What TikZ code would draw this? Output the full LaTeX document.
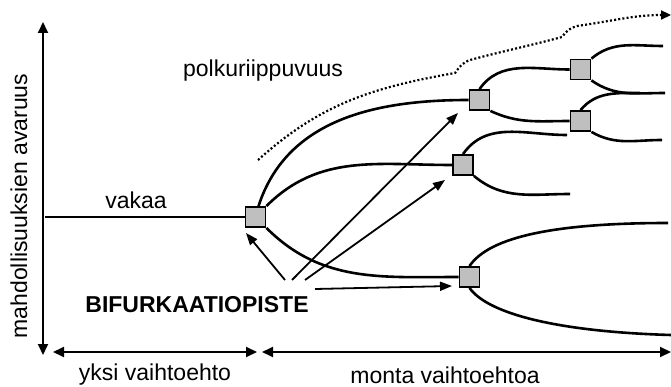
\documentclass[tikz,border=0pt]{standalone}
\usepackage{fontspec}
\setmainfont{Liberation Sans}
\usetikzlibrary{arrows.meta,positioning}

\tikzset{
  branch/.style={line width=2.6pt},
  bpoint/.style={draw, line width=1.8pt, fill=gray!50, minimum size=20pt, inner sep=0pt},
  pointer/.style={line width=1.8pt, -{Triangle[length=12pt,width=9pt]}},
  axis/.style={line width=1.8pt, {Triangle[length=11pt,width=10pt]}-{Triangle[length=11pt,width=10pt]}},
  path dots/.style={line width=2.2pt, dash pattern=on 2pt off 2.2pt, -{Triangle[length=10pt,width=9pt]}},
}

\begin{document}
\begin{tikzpicture}[x=1pt, y=-1pt, >=Triangle, every node/.style={font=\fontsize{23}{27}\selectfont}]
    \useasboundingbox (0,0) rectangle (671,387);

    % axes
    \coordinate (ytop) at (43,22);
    \coordinate (ybot) at (43,355);
    \coordinate (one l) at (53,352);
    \coordinate (one r) at (257,352);
    \coordinate (many l) at (262,352);
    \coordinate (many r) at (671,352);
    \draw[axis] (ytop) -- (ybot);
    \draw[axis] (one l) -- (one r);
    \draw[axis] (many l) -- (many r);

    \node[rotate=90] (space) at (19,206) {mahdollisuuksien avaruus};
    \node (one) at (155,375) {yksi vaihtoehto};
    \node (many) at (445,375) {monta vaihtoehtoa};

    % bifurcation points
    \node[bpoint] (b0) at (255.5,217) {};
    \node[bpoint] (b1) at (479.5,100) {};
    \node[bpoint] (b2) at (463,165) {};
    \node[bpoint] (b3) at (469.5,277) {};
    \node[bpoint] (b4) at (580.5,69.5) {};
    \node[bpoint] (b5) at (580.5,121) {};

    % free ends
    \coordinate (stable) at (45,217);
    \coordinate (e1) at (567,135);
    \coordinate (e2) at (570,194);
    \coordinate (e3) at (663,46);
    \coordinate (e4) at (665,93);
    \coordinate (e5) at (640,93);
    \coordinate (e6) at (662,140);
    \coordinate (e7) at (668,223);
    \coordinate (e8) at (671,335);

    \draw[line width=2pt] (stable) -- (b0);
    \node (vakaa) at (136,200) {vakaa};

    \draw[branch] ([xshift=3pt]b0.north) to[out=72,in=180] (b1.west);
    \draw[branch] (b0.north east) to[out=45,in=180] (b2.west);
    \draw[branch] (b0.south east) to[out=-45,in=180] (b3.west);
    \draw[branch] (b1.north) to[out=55,in=180] (b4.west);
    \draw[branch] (b1.south east) to[out=-25,in=180] (b5.west);
    \draw[branch] (b2.north) to[out=55,in=180] (e1);
    \draw[branch] (b2.south east) to[out=-40,in=180] (e2);
    \draw[branch] (b4.north east) to[out=40,in=180] (e3);
    \draw[branch] (b4.south east) to[out=-35,in=180] (e4);
    \draw[branch] (b5.north) to[out=50,in=180] (e5);
    \draw[branch] (b5.south east) to[out=-30,in=180] (e6);
    \draw[branch] (b3.north) .. controls +(20,-30) and +(-110,0) .. (e7);
    \draw[branch] (b3.south) .. controls +(20,28) and +(-105,-3) .. (e8);

    % path dependence
    \coordinate (d0) at (258,160);
    \coordinate (d1) at (455,73);
    \coordinate (d2) at (470,60);
    \coordinate (d3) at (562,37);
    \coordinate (d4) at (577,26);
    \coordinate (d5) at (671,15);
    \draw[path dots] (d0) to[out=42,in=190] (d1) to[out=55,in=200] (d2)
        to[out=15,in=195] (d3) to[out=55,in=195] (d4) to[out=8,in=180] (d5);
    \node (polku) at (263,71) {polkuriippuvuus};

    % label and pointers
    \node[font=\fontsize{23}{27}\selectfont\bfseries] (bif) at (197,305) {BIFURKAATIOPISTE};
    \coordinate (s0) at (285,280);
    \coordinate (s1) at (292,280);
    \coordinate (s2) at (305,280);
    \coordinate (s3) at (315,289);
    \draw[pointer] (s0) -- (246,233);
    \draw[pointer] (s1) -- (458,113);
    \draw[pointer] (s2) -- (445,180);
    \draw[pointer] (s3) -- (452,286);
\end{tikzpicture}
\end{document}
